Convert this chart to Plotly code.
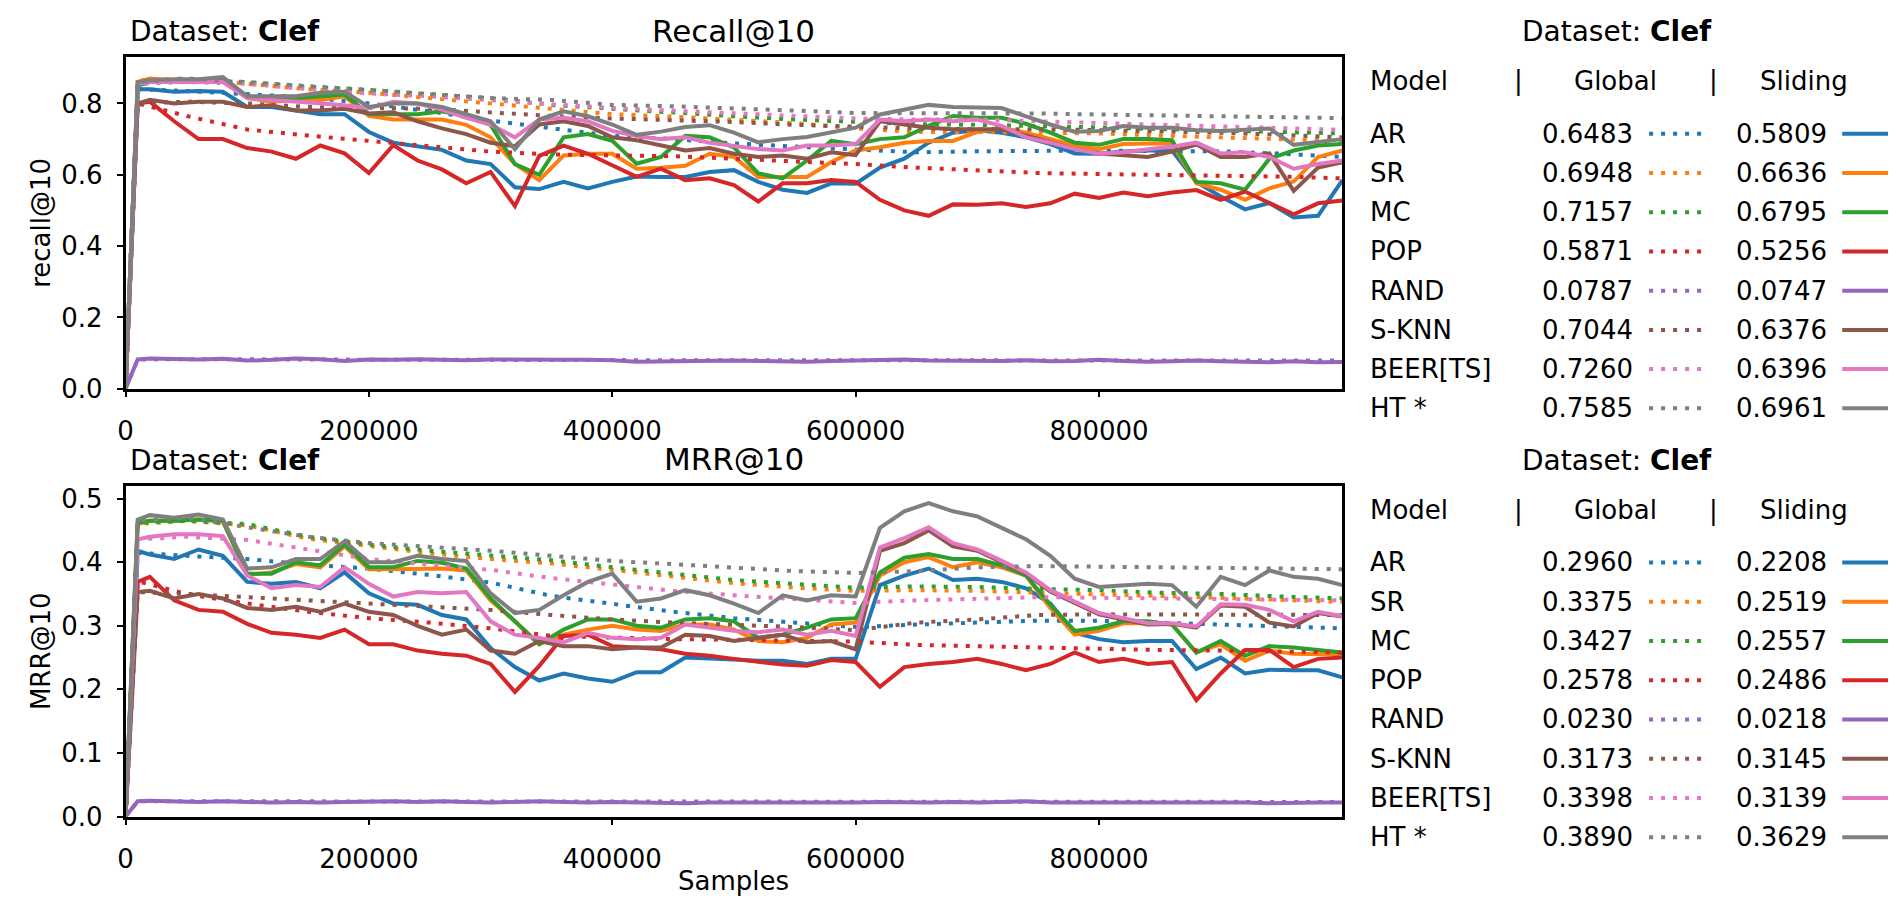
import plotly.graph_objects as go

W, H = 1896, 905
FONT = "DejaVu Sans"

# ---------------- data ----------------
MODELS = ["AR", "SR", "MC", "POP", "RAND", "S-KNN", "BEER[TS]", "HT *"]
COLORS = ["#1f77b4", "#ff7f0e", "#2ca02c", "#d62728", "#9467bd", "#8c564b", "#e377c2", "#7f7f7f"]

SAMPLES = [0, 10000] + list(range(20000, 1000001, 20000))
SAMPLES_GLOBAL = [0, 10000] + list(range(50000, 1000001, 50000))

X_TICKS = [0, 200000, 400000, 600000, 800000]
X_TICK_LABELS = ["0", "200000", "400000", "600000", "800000"]
REC_Y_TICKS = [0.0, 0.2, 0.4, 0.6, 0.8]
REC_Y_TICK_LABELS = ["0.0", "0.2", "0.4", "0.6", "0.8"]
MRR_Y_TICKS = [0.0, 0.1, 0.2, 0.3, 0.4, 0.5]
MRR_Y_TICK_LABELS = ["0.0", "0.1", "0.2", "0.3", "0.4", "0.5"]

# Recall@10 - sliding window
REC_SLIDING_AR = [0, 0.84, 0.84,
    0.833, 0.835, 0.833, 0.79, 0.79, 0.78, 0.77, 0.77, 0.72,
    0.69, 0.68, 0.67, 0.64, 0.63, 0.565, 0.56, 0.58, 0.562, 0.58,
    0.595, 0.594, 0.594, 0.608, 0.613, 0.58, 0.558, 0.549, 0.576, 0.575,
    0.62, 0.645, 0.69, 0.718, 0.725, 0.718, 0.705, 0.686, 0.66, 0.659,
    0.665, 0.668, 0.668, 0.58, 0.539, 0.503, 0.521, 0.48, 0.485, 0.585]
REC_SLIDING_SR = [0, 0.86, 0.87,
    0.865, 0.865, 0.865, 0.815, 0.805, 0.81, 0.81, 0.82, 0.765,
    0.755, 0.755, 0.755, 0.74, 0.705, 0.63, 0.585, 0.654, 0.659, 0.659,
    0.617, 0.62, 0.625, 0.659, 0.65, 0.594, 0.594, 0.594, 0.636, 0.668,
    0.677, 0.69, 0.695, 0.695, 0.72, 0.732, 0.718, 0.70, 0.682, 0.672,
    0.686, 0.688, 0.688, 0.576, 0.558, 0.53, 0.562, 0.581, 0.65, 0.668]
REC_SLIDING_MC = [0, 0.85, 0.86,
    0.865, 0.865, 0.865, 0.82, 0.815, 0.815, 0.82, 0.825, 0.77,
    0.77, 0.77, 0.778, 0.765, 0.74, 0.63, 0.60, 0.705, 0.714, 0.695,
    0.631, 0.65, 0.709, 0.705, 0.677, 0.604, 0.59, 0.64, 0.695, 0.686,
    0.70, 0.705, 0.737, 0.765, 0.76, 0.76, 0.743, 0.718, 0.69, 0.684,
    0.70, 0.70, 0.697, 0.58, 0.576, 0.558, 0.645, 0.668, 0.682, 0.686]
REC_SLIDING_POP = [0, 0.80, 0.805,
    0.75, 0.70, 0.70, 0.675, 0.665, 0.645, 0.682, 0.66, 0.605,
    0.683, 0.64, 0.615, 0.576, 0.608, 0.512, 0.653, 0.682, 0.659, 0.627,
    0.594, 0.617, 0.585, 0.59, 0.571, 0.525, 0.576, 0.576, 0.585, 0.58,
    0.53, 0.50, 0.485, 0.517, 0.516, 0.52, 0.51, 0.52, 0.547, 0.535,
    0.55, 0.54, 0.55, 0.557, 0.53, 0.553, 0.52, 0.489, 0.52, 0.528]
REC_SLIDING_RAND = [0, 0.082, 0.085,
    0.083, 0.082, 0.084, 0.079, 0.081, 0.085, 0.083, 0.078, 0.082,
    0.081, 0.083, 0.082, 0.080, 0.082, 0.081, 0.080, 0.081, 0.081, 0.080,
    0.076, 0.077, 0.078, 0.077, 0.079, 0.078, 0.077, 0.076, 0.078, 0.079,
    0.080, 0.082, 0.079, 0.078, 0.079, 0.078, 0.080, 0.077, 0.078, 0.081,
    0.078, 0.076, 0.077, 0.079, 0.077, 0.076, 0.074, 0.077, 0.074, 0.075]
REC_SLIDING_SKNN = [0, 0.80, 0.81,
    0.80, 0.805, 0.805, 0.79, 0.795, 0.78, 0.78, 0.785, 0.772,
    0.775, 0.75, 0.73, 0.714, 0.69, 0.68, 0.741, 0.75, 0.737, 0.705,
    0.697, 0.682, 0.668, 0.675, 0.659, 0.65, 0.654, 0.645, 0.663, 0.655,
    0.75, 0.741, 0.732, 0.728, 0.728, 0.728, 0.71, 0.69, 0.672, 0.66,
    0.654, 0.65, 0.665, 0.685, 0.65, 0.65, 0.66, 0.555, 0.62, 0.635]
REC_SLIDING_BEER = [0, 0.855, 0.86,
    0.86, 0.86, 0.86, 0.815, 0.81, 0.805, 0.80, 0.795, 0.787,
    0.805, 0.80, 0.783, 0.76, 0.741, 0.705, 0.755, 0.76, 0.75, 0.723,
    0.709, 0.70, 0.705, 0.69, 0.682, 0.672, 0.668, 0.682, 0.682, 0.686,
    0.755, 0.75, 0.755, 0.75, 0.755, 0.737, 0.705, 0.69, 0.672, 0.659,
    0.663, 0.67, 0.679, 0.69, 0.66, 0.663, 0.65, 0.617, 0.63, 0.64]
REC_SLIDING_HT = [0, 0.86, 0.865,
    0.868, 0.868, 0.874, 0.82, 0.82, 0.82, 0.83, 0.833, 0.79,
    0.80, 0.80, 0.79, 0.77, 0.75, 0.672, 0.755, 0.778, 0.764, 0.741,
    0.712, 0.721, 0.734, 0.739, 0.718, 0.691, 0.70, 0.706, 0.718, 0.732,
    0.769, 0.783, 0.796, 0.79, 0.789, 0.787, 0.764, 0.741, 0.721, 0.723,
    0.737, 0.732, 0.732, 0.725, 0.723, 0.727, 0.73, 0.684, 0.693, 0.70]

# Recall@10 - global (cumulative)
REC_GLOBAL_AR = [0, 0.84, 0.835, 0.825, 0.817, 0.80, 0.778, 0.752, 0.73, 0.709, 0.70,
                 0.688, 0.679, 0.67, 0.663, 0.666, 0.668, 0.668, 0.666, 0.666, 0.659, 0.65]
REC_GLOBAL_SR = [0, 0.865, 0.87, 0.855, 0.84, 0.83, 0.815, 0.80, 0.783, 0.77, 0.763,
                 0.755, 0.745, 0.73, 0.72, 0.72, 0.718, 0.716, 0.71, 0.705, 0.70, 0.695]
REC_GLOBAL_MC = [0, 0.855, 0.865, 0.86, 0.847, 0.838, 0.826, 0.815, 0.796, 0.785, 0.775,
                 0.764, 0.755, 0.748, 0.742, 0.74, 0.737, 0.733, 0.728, 0.724, 0.72, 0.716]
REC_GLOBAL_POP = [0, 0.80, 0.765, 0.727, 0.71, 0.695, 0.68, 0.665, 0.657, 0.655, 0.652,
                  0.645, 0.638, 0.63, 0.62, 0.613, 0.605, 0.602, 0.60, 0.598, 0.595, 0.59]
REC_GLOBAL_RAND = [0, 0.082, 0.083, 0.082, 0.082, 0.081, 0.081, 0.081, 0.080, 0.080, 0.080,
                   0.080, 0.080, 0.080, 0.080, 0.079, 0.079, 0.079, 0.079, 0.079, 0.079, 0.079]
REC_GLOBAL_SKNN = [0, 0.80, 0.805, 0.80, 0.79, 0.787, 0.785, 0.775, 0.765, 0.758, 0.753,
                   0.748, 0.74, 0.735, 0.73, 0.728, 0.728, 0.725, 0.722, 0.718, 0.712, 0.705]
REC_GLOBAL_BEER = [0, 0.855, 0.86, 0.855, 0.84, 0.828, 0.82, 0.81, 0.798, 0.787, 0.78,
                   0.773, 0.765, 0.758, 0.755, 0.755, 0.75, 0.745, 0.74, 0.735, 0.73, 0.726]
REC_GLOBAL_HT = [0, 0.86, 0.87, 0.86, 0.848, 0.838, 0.826, 0.815, 0.81, 0.796, 0.792,
                 0.787, 0.78, 0.773, 0.773, 0.773, 0.772, 0.769, 0.766, 0.764, 0.762, 0.759]

# MRR@10 - sliding window
MRR_SLIDING_AR = [0, 0.418, 0.412,
    0.405, 0.42, 0.41, 0.369, 0.366, 0.369, 0.359, 0.384, 0.351,
    0.335, 0.333, 0.317, 0.31, 0.265, 0.235, 0.214, 0.225, 0.217, 0.212,
    0.227, 0.227, 0.25, 0.249, 0.247, 0.245, 0.245, 0.24, 0.248, 0.248,
    0.364, 0.379, 0.39, 0.372, 0.374, 0.369, 0.359, 0.335, 0.289, 0.279,
    0.274, 0.276, 0.276, 0.232, 0.25, 0.225, 0.231, 0.23, 0.23, 0.219]
MRR_SLIDING_SR = [0, 0.46, 0.465,
    0.465, 0.467, 0.464, 0.38, 0.384, 0.397, 0.392, 0.425, 0.389,
    0.389, 0.39, 0.39, 0.387, 0.34, 0.307, 0.271, 0.286, 0.294, 0.30,
    0.294, 0.292, 0.302, 0.302, 0.294, 0.276, 0.274, 0.281, 0.302, 0.305,
    0.379, 0.40, 0.408, 0.392, 0.40, 0.392, 0.379, 0.328, 0.286, 0.292,
    0.304, 0.304, 0.302, 0.258, 0.271, 0.245, 0.261, 0.256, 0.256, 0.255]
MRR_SLIDING_MC = [0, 0.462, 0.465,
    0.465, 0.467, 0.465, 0.382, 0.382, 0.40, 0.395, 0.428, 0.392,
    0.392, 0.402, 0.399, 0.39, 0.343, 0.307, 0.271, 0.294, 0.31, 0.31,
    0.30, 0.297, 0.31, 0.312, 0.307, 0.281, 0.286, 0.297, 0.31, 0.312,
    0.384, 0.407, 0.413, 0.405, 0.405, 0.395, 0.379, 0.333, 0.292, 0.297,
    0.307, 0.307, 0.302, 0.258, 0.276, 0.253, 0.268, 0.266, 0.262, 0.258]
MRR_SLIDING_POP = [0, 0.369, 0.377,
    0.34, 0.325, 0.322, 0.303, 0.289, 0.286, 0.281, 0.294, 0.271,
    0.271, 0.261, 0.256, 0.253, 0.24, 0.196, 0.237, 0.284, 0.286, 0.268,
    0.266, 0.263, 0.256, 0.253, 0.248, 0.243, 0.239, 0.237, 0.246, 0.243,
    0.204, 0.235, 0.24, 0.243, 0.248, 0.24, 0.23, 0.24, 0.258, 0.243,
    0.248, 0.24, 0.243, 0.183, 0.225, 0.262, 0.262, 0.235, 0.248, 0.25]
MRR_SLIDING_RAND = [0, 0.024, 0.025,
    0.024, 0.023, 0.024, 0.023, 0.022, 0.023, 0.022, 0.023, 0.024,
    0.024, 0.023, 0.024, 0.023, 0.022, 0.023, 0.024, 0.023, 0.022, 0.023,
    0.022, 0.022, 0.021, 0.022, 0.022, 0.021, 0.022, 0.021, 0.022, 0.022,
    0.023, 0.022, 0.022, 0.023, 0.022, 0.023, 0.024, 0.022, 0.022, 0.023,
    0.022, 0.023, 0.022, 0.022, 0.023, 0.022, 0.021, 0.022, 0.022, 0.022]
MRR_SLIDING_SKNN = [0, 0.353, 0.355,
    0.343, 0.35, 0.343, 0.328, 0.325, 0.33, 0.322, 0.335, 0.322,
    0.317, 0.30, 0.286, 0.294, 0.261, 0.256, 0.276, 0.268, 0.268, 0.263,
    0.266, 0.266, 0.286, 0.284, 0.276, 0.281, 0.286, 0.274, 0.276, 0.263,
    0.418, 0.43, 0.45, 0.425, 0.418, 0.40, 0.382, 0.354, 0.336, 0.318,
    0.31, 0.302, 0.303, 0.297, 0.332, 0.33, 0.305, 0.299, 0.32, 0.3145]
MRR_SLIDING_BEER = [0, 0.436, 0.44,
    0.444, 0.444, 0.441, 0.379, 0.359, 0.364, 0.361, 0.392, 0.366,
    0.346, 0.353, 0.351, 0.353, 0.307, 0.286, 0.281, 0.274, 0.289, 0.281,
    0.279, 0.281, 0.302, 0.297, 0.292, 0.29, 0.294, 0.286, 0.292, 0.284,
    0.423, 0.438, 0.455, 0.43, 0.42, 0.402, 0.384, 0.356, 0.338, 0.32,
    0.312, 0.304, 0.304, 0.299, 0.334, 0.333, 0.325, 0.307, 0.322, 0.315]
MRR_SLIDING_HT = [0, 0.467, 0.474,
    0.47, 0.475, 0.467, 0.39, 0.392, 0.405, 0.405, 0.433, 0.40,
    0.40, 0.41, 0.405, 0.402, 0.351, 0.32, 0.325, 0.348, 0.369, 0.382,
    0.338, 0.343, 0.356, 0.348, 0.335, 0.32, 0.348, 0.34, 0.348, 0.346,
    0.454, 0.48, 0.493, 0.48, 0.472, 0.454, 0.436, 0.41, 0.374, 0.361,
    0.364, 0.366, 0.364, 0.33, 0.377, 0.364, 0.387, 0.377, 0.374, 0.364]

# MRR@10 - global (cumulative)
MRR_GLOBAL_AR = [0, 0.415, 0.41, 0.405, 0.396, 0.39, 0.38, 0.368, 0.347, 0.335, 0.322,
                 0.312, 0.305, 0.298, 0.302, 0.305, 0.308, 0.308, 0.305, 0.303, 0.30, 0.296]
MRR_GLOBAL_SR = [0, 0.46, 0.465, 0.458, 0.437, 0.425, 0.414, 0.405, 0.398, 0.388, 0.377,
                 0.367, 0.36, 0.355, 0.356, 0.355, 0.352, 0.35, 0.347, 0.344, 0.34, 0.3375]
MRR_GLOBAL_MC = [0, 0.462, 0.465, 0.46, 0.44, 0.428, 0.418, 0.41, 0.403, 0.392, 0.382,
                 0.372, 0.366, 0.36, 0.362, 0.361, 0.358, 0.356, 0.352, 0.35, 0.346, 0.343]
MRR_GLOBAL_POP = [0, 0.37, 0.35, 0.335, 0.322, 0.312, 0.305, 0.296, 0.284, 0.281, 0.279,
                  0.278, 0.276, 0.275, 0.27, 0.268, 0.265, 0.263, 0.262, 0.261, 0.26, 0.258]
MRR_GLOBAL_RAND = [0, 0.024, 0.024, 0.024, 0.024, 0.023, 0.023, 0.023, 0.023, 0.023, 0.023,
                   0.023, 0.023, 0.023, 0.023, 0.023, 0.023, 0.023, 0.023, 0.023, 0.023, 0.023]
MRR_GLOBAL_SKNN = [0, 0.353, 0.35, 0.345, 0.34, 0.335, 0.33, 0.325, 0.317, 0.31, 0.305,
                   0.302, 0.298, 0.293, 0.305, 0.31, 0.317, 0.318, 0.318, 0.318, 0.317, 0.317]
MRR_GLOBAL_BEER = [0, 0.436, 0.44, 0.435, 0.42, 0.405, 0.396, 0.388, 0.375, 0.365, 0.355,
                   0.348, 0.342, 0.336, 0.34, 0.343, 0.345, 0.344, 0.343, 0.342, 0.341, 0.34]
MRR_GLOBAL_HT = [0, 0.465, 0.47, 0.455, 0.44, 0.43, 0.424, 0.418, 0.41, 0.402, 0.397,
                 0.392, 0.386, 0.383, 0.386, 0.392, 0.394, 0.393, 0.392, 0.391, 0.39, 0.389]

# table scores
REC_GLOBAL_SCORE = ["0.6483", "0.6948", "0.7157", "0.5871", "0.0787", "0.7044", "0.7260", "0.7585"]
REC_SLIDING_SCORE = ["0.5809", "0.6636", "0.6795", "0.5256", "0.0747", "0.6376", "0.6396", "0.6961"]
MRR_GLOBAL_SCORE = ["0.2960", "0.3375", "0.3427", "0.2578", "0.0230", "0.3173", "0.3398", "0.3890"]
MRR_SLIDING_SCORE = ["0.2208", "0.2519", "0.2557", "0.2486", "0.0218", "0.3145", "0.3139", "0.3629"]

REC_SLIDING = [REC_SLIDING_AR, REC_SLIDING_SR, REC_SLIDING_MC, REC_SLIDING_POP,
               REC_SLIDING_RAND, REC_SLIDING_SKNN, REC_SLIDING_BEER, REC_SLIDING_HT]
REC_GLOBAL = [REC_GLOBAL_AR, REC_GLOBAL_SR, REC_GLOBAL_MC, REC_GLOBAL_POP,
              REC_GLOBAL_RAND, REC_GLOBAL_SKNN, REC_GLOBAL_BEER, REC_GLOBAL_HT]
MRR_SLIDING = [MRR_SLIDING_AR, MRR_SLIDING_SR, MRR_SLIDING_MC, MRR_SLIDING_POP,
               MRR_SLIDING_RAND, MRR_SLIDING_SKNN, MRR_SLIDING_BEER, MRR_SLIDING_HT]
MRR_GLOBAL = [MRR_GLOBAL_AR, MRR_GLOBAL_SR, MRR_GLOBAL_MC, MRR_GLOBAL_POP,
              MRR_GLOBAL_RAND, MRR_GLOBAL_SKNN, MRR_GLOBAL_BEER, MRR_GLOBAL_HT]

# ---------------- layout helpers ----------------
def px(x):
    return x / W


def py(y):
    return 1 - y / H


LW = 4
DOT = "4px,8px"

fig = go.Figure()

panels = [
    (REC_GLOBAL, REC_SLIDING, "x", "y"),
    (MRR_GLOBAL, MRR_SLIDING, "x2", "y2"),
]
for glob, slid, xa, ya in panels:
    for i, name in enumerate(MODELS):
        fig.add_trace(go.Scatter(x=SAMPLES_GLOBAL, y=glob[i], mode="lines", name=name + " global",
                                 line=dict(color=COLORS[i], width=LW, dash=DOT),
                                 xaxis=xa, yaxis=ya, showlegend=False))
        fig.add_trace(go.Scatter(x=SAMPLES, y=slid[i], mode="lines", name=name + " sliding",
                                 line=dict(color=COLORS[i], width=LW),
                                 xaxis=xa, yaxis=ya, showlegend=False))

PLOT_L, PLOT_R = 110, 1332
TOP_T, TOP_B = 48, 386
BOT_T, BOT_B = 485, 822

axis_common = dict(showline=True, mirror=True, linecolor="black", linewidth=2.5,
                   ticks="outside", ticklen=6, tickwidth=2, tickcolor="black",
                   showgrid=False, zeroline=False,
                   tickfont=dict(family=FONT, size=26, color="black"))

fig.update_layout(
    width=W, height=H,
    margin=dict(l=0, r=0, t=0, b=0),
    paper_bgcolor="white", plot_bgcolor="white",
    showlegend=False,
    xaxis=dict(domain=[px(PLOT_L), px(PLOT_R)], range=[0, 1000000], anchor="y",
               tickvals=X_TICKS, ticktext=X_TICK_LABELS, ticklabelstandoff=11, **axis_common),
    yaxis=dict(domain=[py(TOP_B), py(TOP_T)], range=[0, 0.93], anchor="x",
               tickvals=REC_Y_TICKS, ticktext=REC_Y_TICK_LABELS, ticklabelstandoff=9, **axis_common),
    xaxis2=dict(domain=[px(PLOT_L), px(PLOT_R)], range=[0, 1000000], anchor="y2",
                tickvals=X_TICKS, ticktext=X_TICK_LABELS, ticklabelstandoff=11, **axis_common),
    yaxis2=dict(domain=[py(BOT_B), py(BOT_T)], range=[0, 0.52], anchor="x2",
                tickvals=MRR_Y_TICKS, ticktext=MRR_Y_TICK_LABELS, ticklabelstandoff=9, **axis_common),
)

ann = []
shapes = []


def text(x, y, s, size=26, xanchor="left", angle=0):
    ann.append(dict(x=px(x), y=py(y), xref="paper", yref="paper", text=s, showarrow=False,
                    xanchor=xanchor, yanchor="middle", textangle=angle,
                    font=dict(family=FONT, size=size, color="black")))


DATASET = "Dataset: <b>Clef</b>"
for (title, ylab, y_title, y_center, y_head, y_row0, gscores, sscores) in [
    ("Recall@10", "recall@10", 22, (TOP_T + TOP_B) / 2, 72, 126, REC_GLOBAL_SCORE, REC_SLIDING_SCORE),
    ("MRR@10", "MRR@10", 459, (BOT_T + BOT_B) / 2, 510, 563, MRR_GLOBAL_SCORE, MRR_SLIDING_SCORE),
]:
    text(PLOT_L + 2, y_title, DATASET, size=28)
    text((PLOT_L + PLOT_R) / 2, y_title - 1, title, size=31, xanchor="center")
    text(25, y_center, ylab, size=26, xanchor="center", angle=-90)
    # table
    text(1608, y_title, DATASET, size=28, xanchor="center")
    text(1358, y_head, "Model")
    text(1509, y_head, "|", xanchor="center")
    text(1606, y_head, "Global", xanchor="center")
    text(1705, y_head, "|", xanchor="center")
    text(1796, y_head, "Sliding", xanchor="center")
    for i, name in enumerate(MODELS):
        yy = y_row0 + 40 * i
        text(1358, yy, name)
        text(1626, yy, gscores[i], xanchor="right")
        text(1821, yy, sscores[i], xanchor="right")
        shapes.append(dict(type="line", xref="paper", yref="paper",
                           x0=px(1640), x1=px(1696), y0=py(yy), y1=py(yy),
                           line=dict(color=COLORS[i], width=LW, dash=DOT)))
        shapes.append(dict(type="line", xref="paper", yref="paper",
                           x0=px(1834), x1=px(1896), y0=py(yy), y1=py(yy),
                           line=dict(color=COLORS[i], width=LW)))

text((PLOT_L + PLOT_R) / 2, 888, "Samples", size=26, xanchor="center")

fig.update_layout(annotations=ann, shapes=shapes)
fig.write_html("out.html")
